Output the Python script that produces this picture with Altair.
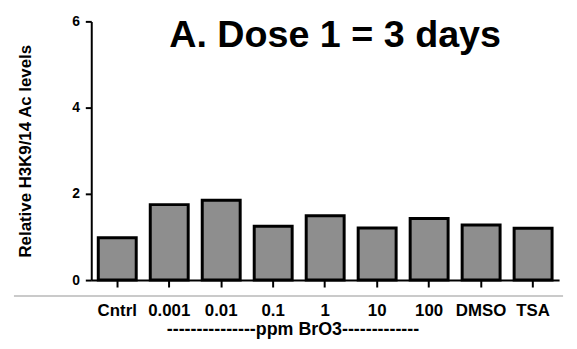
import altair as alt
import pandas as pd

categories = ["Cntrl", "0.001", "0.01", "0.1", "1", "10", "100", "DMSO", "TSA"]
values = [0.98, 1.75, 1.85, 1.25, 1.49, 1.21, 1.43, 1.28, 1.20]
y_ticks = [0, 2, 4, 6]

df = pd.DataFrame({"group": categories, "value": values})
FONT = "Liberation Sans"

bars = alt.Chart(df).mark_bar(
    fill="#8e8e8e", stroke="black", strokeWidth=3, strokeJoin="miter"
).encode(
    x=alt.X("group:N", sort=categories,
            scale=alt.Scale(paddingInner=0.27, paddingOuter=0.135),
            axis=alt.Axis(title="---------------ppm BrO3-------------",
                          labelAngle=0, labelFont=FONT, labelFontSize=17,
                          labelFontWeight="bold", labelColor="black",
                          labelPadding=16, tickSize=7, tickWidth=2,
                          tickColor="black", domainColor="black",
                          domainWidth=2, titleFont=FONT, titleFontSize=18,
                          titleFontWeight="bold", titlePadding=2,
                          titleX=203, titleColor="black")),
    y=alt.Y("value:Q", scale=alt.Scale(domain=[0, 6], nice=False),
            axis=alt.Axis(values=y_ticks, title="Relative H3K9/14 Ac levels",
                          grid=False, labelFont=FONT, labelFontSize=14,
                          labelFontWeight="bold", labelColor="black",
                          labelPadding=6, tickSize=6, tickWidth=2,
                          tickColor="black", domainColor="black",
                          domainWidth=2, titleFont=FONT, titleFontSize=17,
                          titleFontWeight="bold", titleColor="black",
                          titlePadding=38)),
)

sep = alt.Chart(pd.DataFrame({"k": [0]})).mark_rule(
    color="#b8b8b8", strokeWidth=1.5
).encode(x=alt.value(-78), x2=alt.value(476), y=alt.value(277))

chart = alt.layer(bars, sep).properties(
    width=472, height=261,
    title=alt.TitleParams("A. Dose 1 = 3 days", font=FONT, fontSize=38,
                          fontWeight="bold", color="black", anchor="middle",
                          offset=-41, dx=10),
).configure_view(stroke=None)

chart.save("out.html", embed_options={"renderer": "svg", "actions": False})
